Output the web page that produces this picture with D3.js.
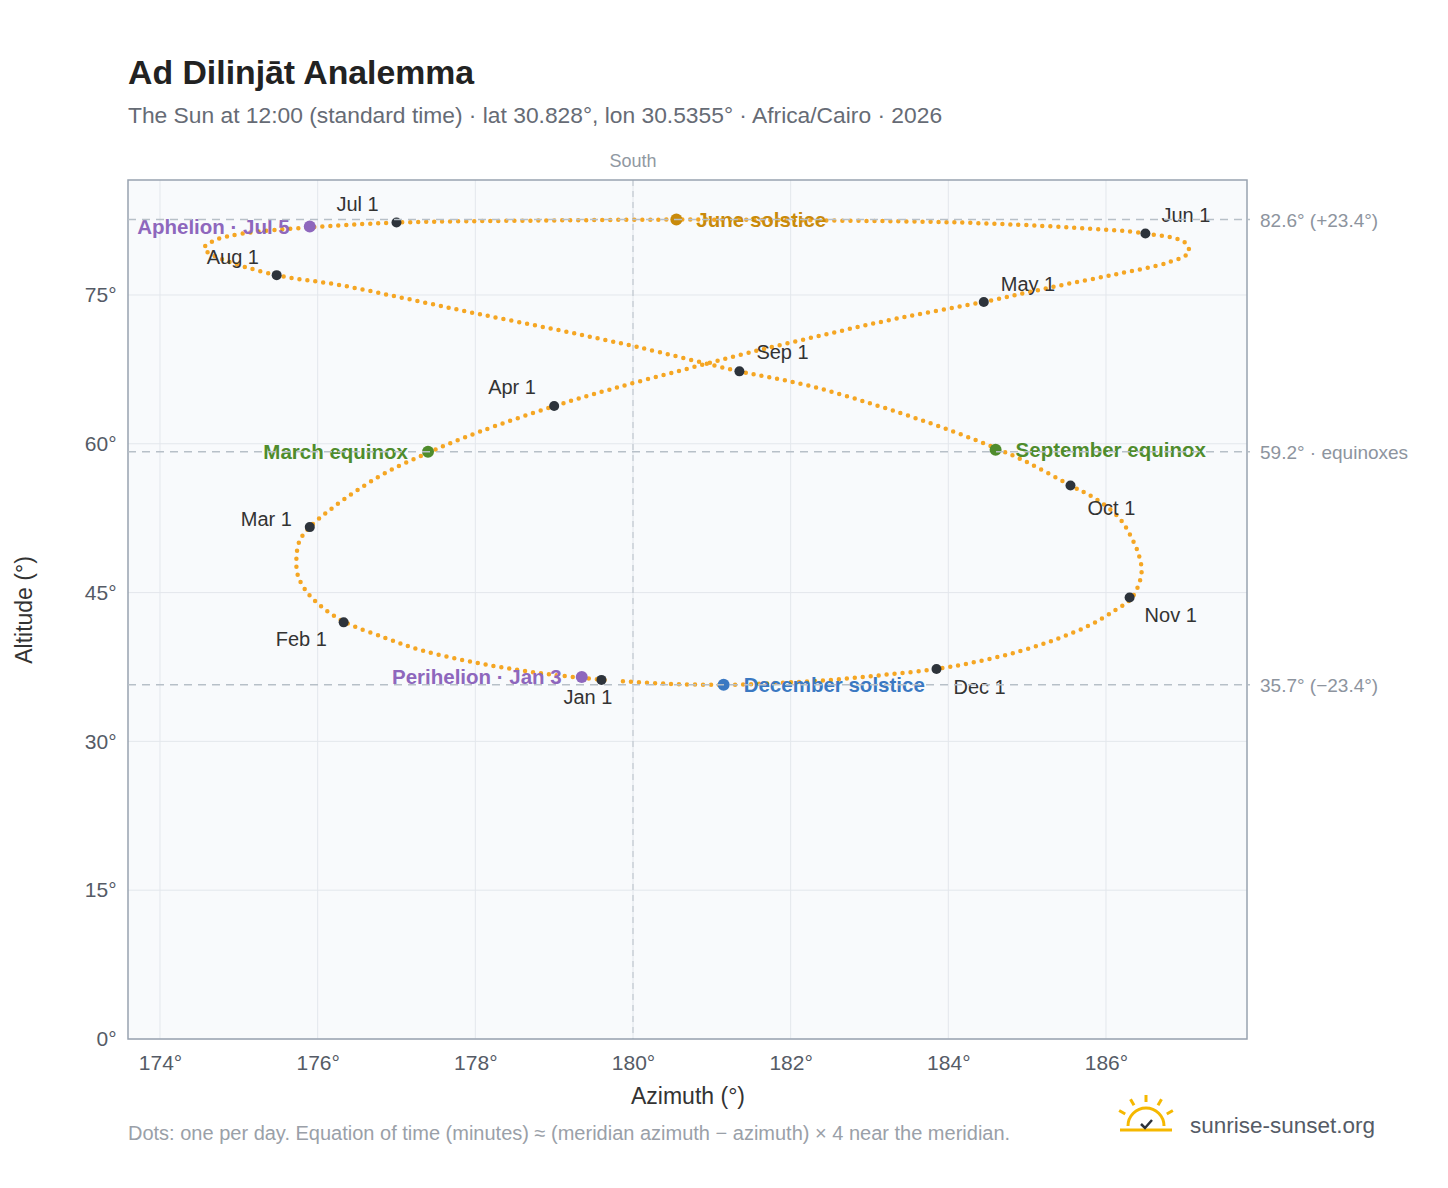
<!DOCTYPE html>
<html><head><meta charset="utf-8">
<script src="https://cdn.jsdelivr.net/npm/d3@7"></script>
<style>body{margin:0;background:#fff;font-family:"Liberation Sans",Arial,sans-serif}</style>
</head><body><svg id="c" width="1448" height="1188"></svg>
<script>
// Sun position at 12:00, every 5 days (read/estimated from the reference)
const dayLabels = ["Jan1","Jan6","Jan11","Jan16","Jan21","Jan26","Feb1","Feb6","Feb11","Feb16","Feb21","Feb26","Mar1","Mar6","Mar11","Mar16","Mar21","Mar26","Apr1","Apr6","Apr11","Apr16","Apr21","Apr26","May1","May6","May11","May16","May21","May26","Jun1","Jun6","Jun11","Jun16","Jun21","Jun26","Jul1","Jul6","Jul11","Jul16","Jul21","Jul26","Aug1","Aug6","Aug11","Aug16","Aug21","Aug26","Sep1","Sep6","Sep11","Sep16","Sep21","Sep26","Oct1","Oct6","Oct11","Oct16","Oct21","Oct26","Nov1","Nov6","Nov11","Nov16","Nov21","Nov26","Dec1","Dec6","Dec11","Dec16","Dec21","Dec26","Dec31"];
const azimuth = [179.64,179.0,178.38,177.84,177.31,176.87,176.35,176.06,175.86,175.75,175.73,175.77,175.9,176.15,176.48,176.89,177.43,178.05,179.0,179.72,180.61,181.48,182.43,183.39,184.45,185.32,186.13,186.8,187.05,187.0,186.5,185.55,184.16,182.54,180.7,178.83,177.0,175.87,175.06,174.69,174.56,174.76,175.48,176.28,177.14,178.03,179.03,180.03,181.35,182.21,183.04,183.76,184.4,184.96,185.55,185.88,186.17,186.32,186.42,186.45,186.33,186.11,185.79,185.37,184.91,184.4,183.85,183.18,182.52,181.85,181.17,180.46,179.78];
const altitude = [36.2,36.7,37.4,38.2,39.2,40.4,42.0,43.5,45.1,46.7,48.4,50.2,51.6,53.3,55.2,57.2,59.2,61.2,63.8,65.5,67.4,69.2,71.0,72.7,74.3,75.8,77.1,78.3,79.3,80.3,81.2,81.8,82.3,82.5,82.6,82.5,82.3,81.8,81.2,80.5,79.7,78.7,77.0,76.0,74.6,73.1,71.5,69.8,67.3,65.9,64.0,62.1,60.2,58.3,55.8,54.4,52.5,50.6,48.7,46.9,44.5,43.2,41.7,40.3,39.1,38.1,37.3,36.7,36.2,35.9,35.7,35.8,36.1];
const monthNames = ["Jan 1","Feb 1","Mar 1","Apr 1","May 1","Jun 1","Jul 1","Aug 1","Sep 1","Oct 1","Nov 1","Dec 1"];
const monthAz = [179.6,176.33,175.9,179.0,184.45,186.5,177.0,175.48,181.35,185.55,186.3,183.85];
const monthAlt = [36.2,42.0,51.6,63.8,74.3,81.2,82.3,77.0,67.3,55.8,44.5,37.3];
const eventNames = ["June solstice","December solstice","March equinox","September equinox","Aphelion · Jul 5","Perihelion · Jan 3"];
const eventAz = [180.55,181.15,177.4,184.6,175.9,179.35];
const eventAlt = [82.6,35.7,59.2,59.4,81.9,36.5];
const refAlt = [82.6,59.2,35.7];
const refLabels = ["82.6° (+23.4°)","59.2° · equinoxes","35.7° (−23.4°)"];
const xTicks = [174,176,178,180,182,184,186];
const yTicks = [0,15,30,45,60,75];

// layout/style (not data)
const monthOff = [[-38,24],[-68,24],[-69,-1],[-66,-12],[17,-11],[16,-11],[-60,-12],[-70,-11],[17,-12],[17,30],[15,24],[17,25]];
const eventStyle = [{c:"#c98a0a",dx:20,a:"start"},{c:"#3a78c2",dx:20,a:"start"},{c:"#4f8c2c",dx:-20,a:"end"},{c:"#4f8c2c",dx:20,a:"start"},{c:"#8e67bd",dx:-20,a:"end"},{c:"#8e67bd",dx:-20,a:"end"}];

const svg = d3.select("#c");
const L=128,R=1247,T=180,B=1039;
const x = d3.scaleLinear().domain([173.594,187.789]).range([L,R]);
const y = d3.scaleLinear().domain([0,86.59]).range([B,T]);

svg.append("text").attr("x",128).attr("y",84).attr("font-size",33.8).attr("font-weight","bold").attr("fill","#222").text("Ad Dilinjāt Analemma");
svg.append("text").attr("x",128).attr("y",123).attr("font-size",22.8).attr("fill","#666b75").text("The Sun at 12:00 (standard time) · lat 30.828°, lon 30.5355° · Africa/Cairo · 2026");

svg.append("rect").attr("x",L).attr("y",T).attr("width",R-L).attr("height",B-T).attr("fill","#f8fafc");
const g = svg.append("g");
xTicks.forEach(t=>g.append("line").attr("x1",x(t)).attr("x2",x(t)).attr("y1",T).attr("y2",B).attr("stroke","#e3e7ec"));
yTicks.forEach(t=>g.append("line").attr("x1",L).attr("x2",R).attr("y1",y(t)).attr("y2",y(t)).attr("stroke","#e3e7ec"));
svg.append("rect").attr("x",L).attr("y",T).attr("width",R-L).attr("height",B-T).attr("fill","none").attr("stroke","#98a3b0").attr("stroke-width",1.5);

g.append("line").attr("x1",x(180)).attr("x2",x(180)).attr("y1",T).attr("y2",B).attr("stroke","#b7c0c8").attr("stroke-dasharray","6,5");
svg.append("text").attr("x",x(180)).attr("y",167).attr("text-anchor","middle").attr("font-size",18).attr("fill","#9098a2").text("South");
refAlt.forEach((a,i)=>{
  svg.append("line").attr("x1",L).attr("x2",1250).attr("y1",y(a)).attr("y2",y(a)).attr("stroke","#b7c0c8").attr("stroke-width",1.5).attr("stroke-dasharray","8,6");
  svg.append("text").attr("x",1260).attr("y",y(a)+7).attr("font-size",19).attr("fill","#8d949e").text(refLabels[i]);
});

const xa = svg.append("g").attr("transform",`translate(0,${B})`).call(d3.axisBottom(x).tickValues(xTicks).tickFormat(d=>d+"°").tickSize(0));
const ya = svg.append("g").attr("transform",`translate(${L},0)`).call(d3.axisLeft(y).tickValues(yTicks).tickFormat(d=>d+"°").tickSize(0));
[xa,ya].forEach(a=>{a.select(".domain").remove();a.selectAll("text").attr("font-size",21).attr("fill","#555b66").attr("font-family","Liberation Sans, Arial");});
xa.selectAll("text").attr("dy","1.35em");
ya.selectAll("text").attr("dx","-0.4em");
svg.append("text").attr("x",688).attr("y",1104).attr("text-anchor","middle").attr("font-size",23).attr("fill","#333").text("Azimuth (°)");
svg.append("text").attr("transform","translate(32,610) rotate(-90)").attr("text-anchor","middle").attr("font-size",23).attr("fill","#333").text("Altitude (°)");

const pts = azimuth.map((a,i)=>[a,altitude[i]]);
g.append("path").attr("d",d3.line().x(d=>x(d[0])).y(d=>y(d[1])).curve(d3.curveCatmullRom)(pts))
 .attr("fill","none").attr("stroke","#f5a623").attr("stroke-width",4.5).attr("stroke-linecap","round").attr("stroke-dasharray","0,8");

monthNames.forEach((m,i)=>{
  g.append("circle").attr("cx",x(monthAz[i])).attr("cy",y(monthAlt[i])).attr("r",5).attr("fill","#2d333b");
  g.append("text").attr("x",x(monthAz[i])+monthOff[i][0]).attr("y",y(monthAlt[i])+monthOff[i][1]).attr("font-size",20).attr("fill","#333").text(m);
});
eventNames.forEach((n,i)=>{
  const s=eventStyle[i];
  g.append("circle").attr("cx",x(eventAz[i])).attr("cy",y(eventAlt[i])).attr("r",6).attr("fill",s.c);
  g.append("text").attr("x",x(eventAz[i])+s.dx).attr("y",y(eventAlt[i])+7).attr("text-anchor",s.a).attr("font-size",20.5).attr("font-weight","bold").attr("fill",s.c).text(n);
});

svg.append("text").attr("x",128).attr("y",1140).attr("font-size",20).attr("fill","#9aa0a8").text("Dots: one per day. Equation of time (minutes) ≈ (meridian azimuth − azimuth) × 4 near the meridian.");
const lg = svg.append("g").attr("transform","translate(1146,1126)");
lg.append("path").attr("d","M-18,0 A18,18 0 0 1 18,0").attr("fill","none").attr("stroke","#f5b800").attr("stroke-width",3);
[-150,-120,-90,-60,-30].forEach(a=>{const r=a*Math.PI/180;lg.append("line").attr("x1",24*Math.cos(r)).attr("y1",24*Math.sin(r)).attr("x2",31*Math.cos(r)).attr("y2",31*Math.sin(r)).attr("stroke","#f5b800").attr("stroke-width",3);});
lg.append("line").attr("x1",-26).attr("x2",26).attr("y1",4).attr("y2",4).attr("stroke","#f5b800").attr("stroke-width",3);
lg.append("path").attr("d","M-5,-2 L-1,2 L6,-6").attr("fill","none").attr("stroke","#2d333b").attr("stroke-width",2.5);
svg.append("text").attr("x",1190).attr("y",1133).attr("font-size",22.5).attr("fill","#555b66").text("sunrise-sunset.org");
</script></body></html>
